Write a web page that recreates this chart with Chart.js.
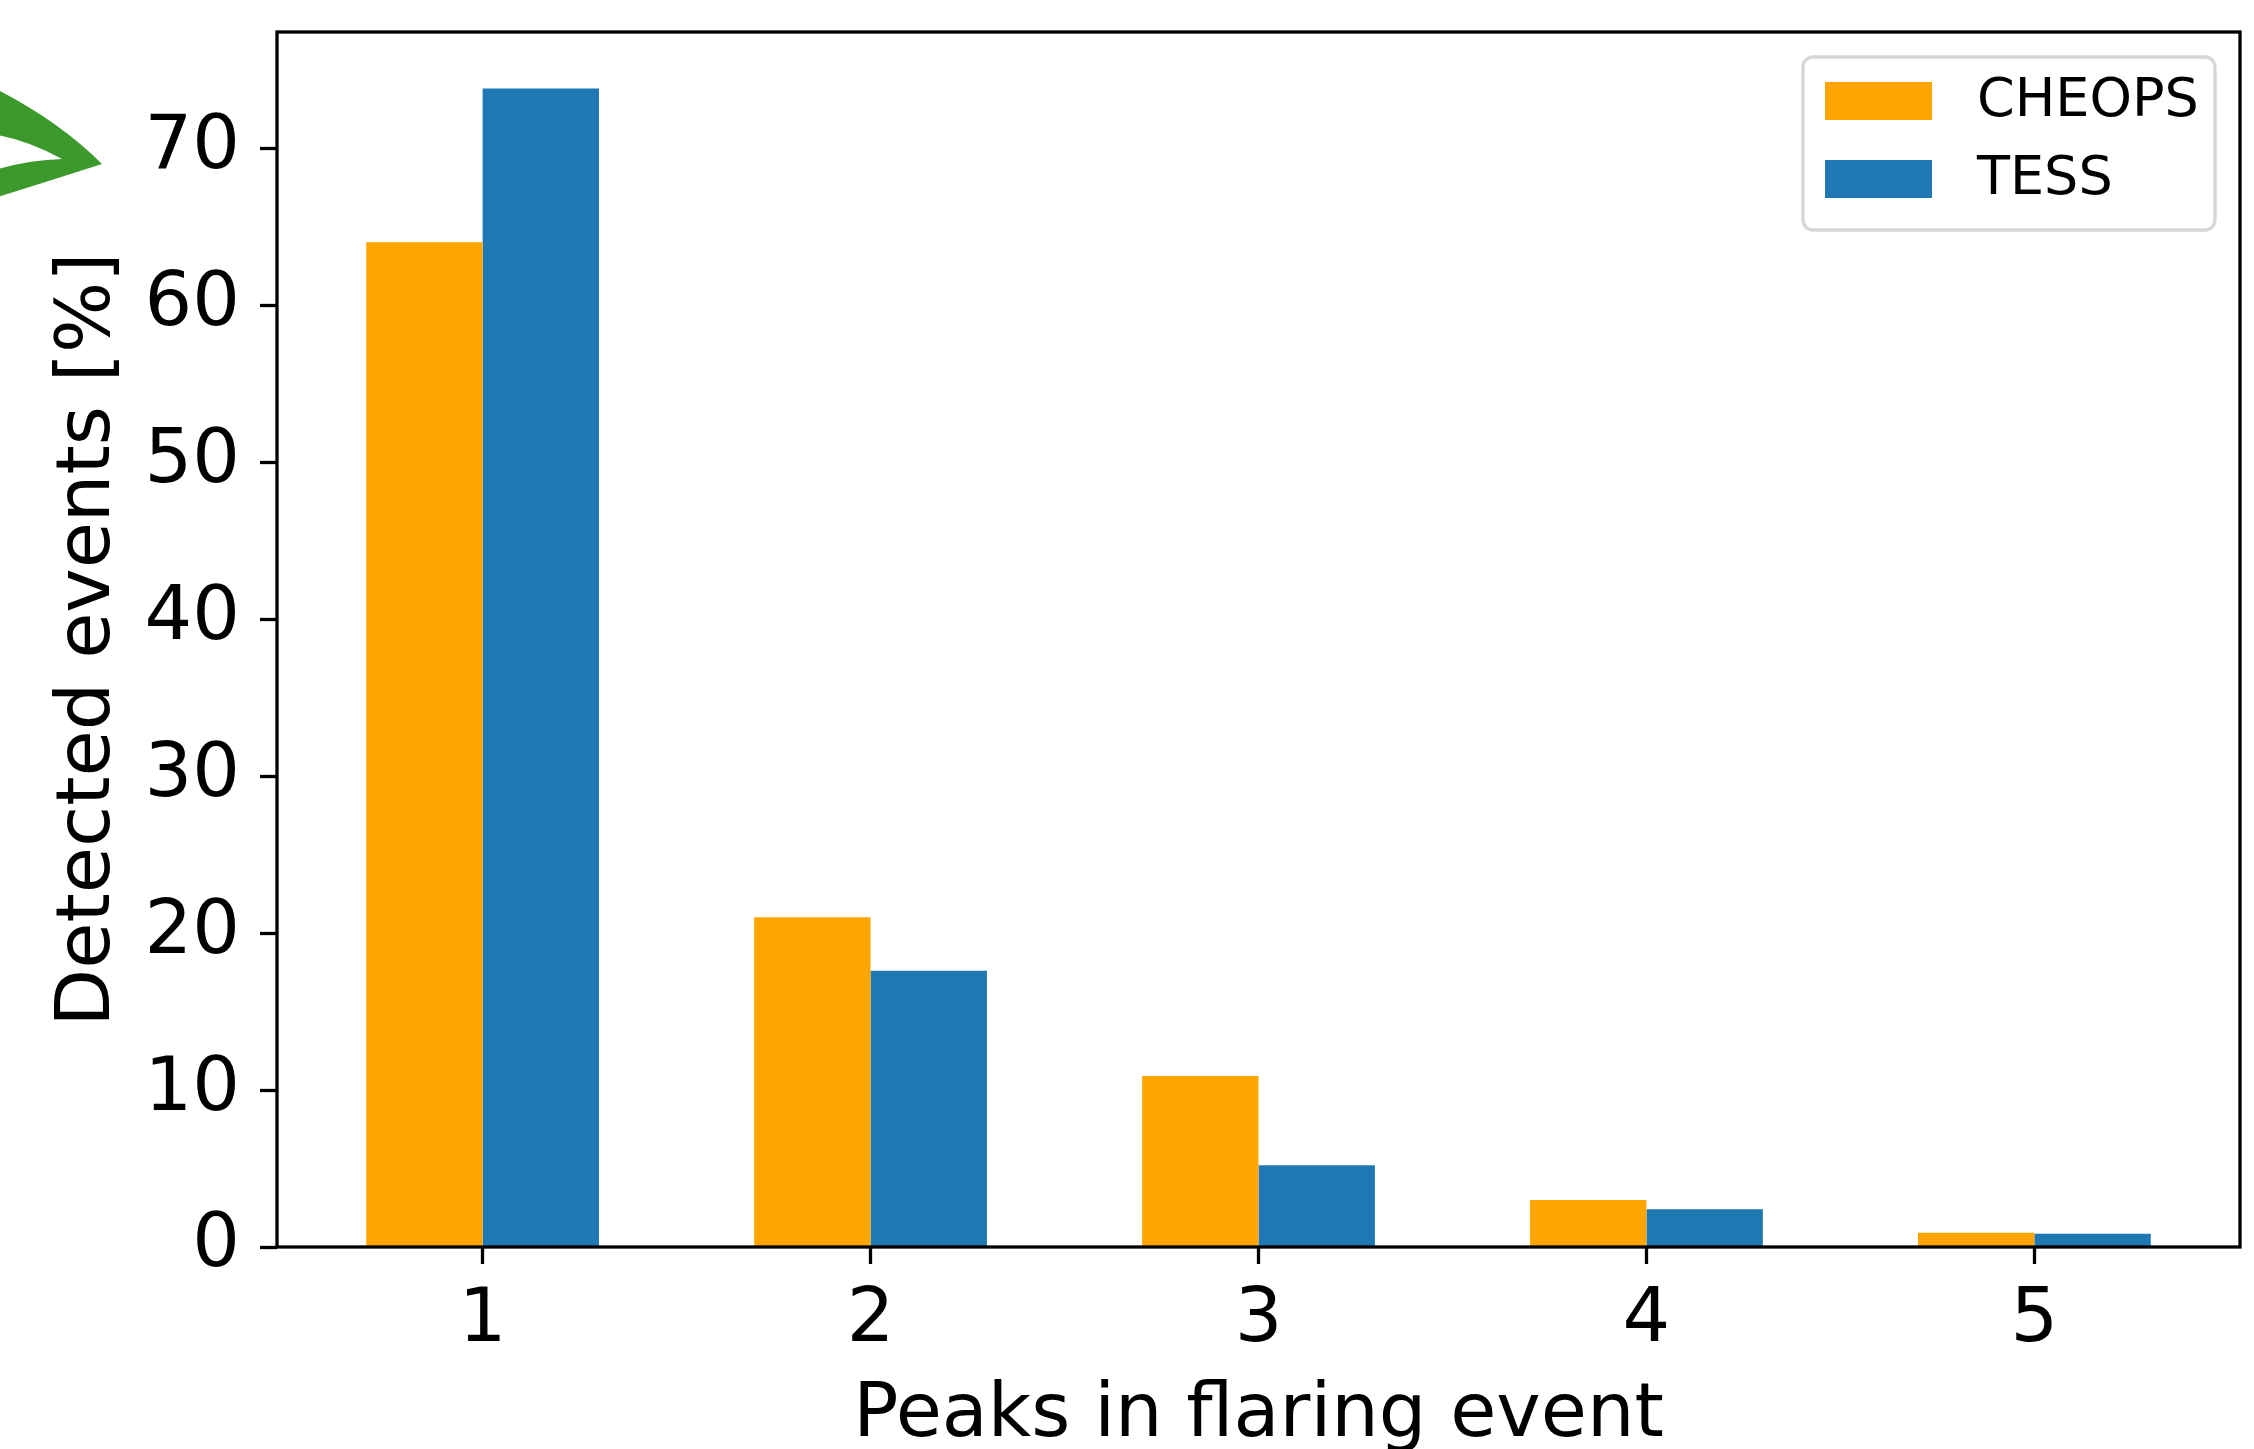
<!DOCTYPE html>
<html>
<head>
<meta charset="utf-8">
<script src="https://cdn.jsdelivr.net/npm/chart.js@4.4.1/dist/chart.umd.min.js"></script>
<style>
  html, body { margin: 0; padding: 0; background: #fff; }
  #wrap { width: 2254px; height: 1449px; }
</style>
</head>
<body>
<div id="wrap"><canvas id="chart" width="2254" height="1449"></canvas></div>
<script>
// Data
const peaks = [1, 2, 3, 4, 5];
const cheops = [64.0, 21.0, 10.9, 3.0, 0.9];
const tess = [73.8, 17.6, 5.2, 2.4, 0.85];
const xTicks = [1, 2, 3, 4, 5];
const yTicks = [0, 10, 20, 30, 40, 50, 60, 70];

const cheopsColor = '#ffa500';
const tessColor = '#1f77b4';
const font = 'DejaVu Sans';

// matplotlib-like frame (all four spines), drawn over the bars
const framePlugin = {
  id: 'frame',
  afterDatasetsDraw(chart) {
    const { ctx, chartArea } = chart;
    const { left, top, right, bottom } = chartArea;
    ctx.save();
    ctx.strokeStyle = '#000';
    ctx.lineWidth = 3.3;
    ctx.strokeRect(left, top, right - left, bottom - top);
    ctx.restore();
  }
};

// legend box in the upper right corner of the axes
const legendPlugin = {
  id: 'boxLegend',
  afterDraw(chart) {
    const { ctx, chartArea } = chart;
    const w = 412, h = 173;
    const x = chartArea.right - 25 - w;
    const y = chartArea.top + 25;
    ctx.save();
    ctx.beginPath();
    ctx.roundRect(x, y, w, h, 10);
    ctx.fillStyle = 'rgba(255,255,255,0.8)';
    ctx.fill();
    ctx.lineWidth = 3.3;
    ctx.strokeStyle = '#d6d6d6';
    ctx.stroke();
    ctx.font = `54px "${font}"`;
    ctx.textBaseline = 'middle';
    ctx.textAlign = 'left';
    chart.data.datasets.forEach((ds, i) => {
      const py = y + 25 + i * 78;
      ctx.fillStyle = ds.backgroundColor;
      ctx.fillRect(x + 22, py, 107, 38);
      ctx.fillStyle = '#000';
      ctx.fillText(ds.label, x + 174, py + 20);
    });
    ctx.restore();
  }
};

// green hand-drawn arrowhead at the left edge
const arrowPlugin = {
  id: 'arrow',
  afterDraw(chart) {
    const { ctx } = chart;
    ctx.save();
    ctx.fillStyle = '#3c9a2c';
    ctx.beginPath();
    ctx.moveTo(-2, 90);
    ctx.quadraticCurveTo(60, 122, 102, 164);
    ctx.quadraticCurveTo(55, 179, -2, 197);
    ctx.lineTo(-2, 169);
    ctx.quadraticCurveTo(30, 160, 62, 159);
    ctx.quadraticCurveTo(30, 141, -2, 135);
    ctx.closePath();
    ctx.fill();
    ctx.restore();
  }
};

new Chart(document.getElementById('chart').getContext('2d'), {
  type: 'bar',
  data: {
    datasets: [
      {
        label: 'CHEOPS',
        data: peaks.map((p, i) => ({ x: p, y: cheops[i] })),
        backgroundColor: cheopsColor,
        borderWidth: 0
      },
      {
        label: 'TESS',
        data: peaks.map((p, i) => ({ x: p, y: tess[i] })),
        backgroundColor: tessColor,
        borderWidth: 0
      }
    ]
  },
  options: {
    responsive: false,
    animation: false,
    devicePixelRatio: 1,
    categoryPercentage: 0.6,
    barPercentage: 1.0,
    layout: { padding: { top: 32, right: 14, left: 0, bottom: 0 } },
    scales: {
      x: {
        type: 'linear',
        offset: false,
        min: 0.47,
        max: 5.53,
        afterBuildTicks: axis => { axis.ticks = xTicks.map(v => ({ value: v })); },
        afterFit: axis => {
          axis.height = 202;
          axis.paddingLeft = 0;
          axis.paddingRight = 0;
        },
        grid: {
          display: true,
          offset: false,
          drawOnChartArea: false,
          drawTicks: true,
          tickLength: 17,
          tickWidth: 3.3,
          tickColor: '#000'
        },
        border: { display: false },
        ticks: {
          color: '#000',
          padding: 20,
          maxRotation: 0,
          font: { family: font, size: 75, lineHeight: 1 }
        },
        title: {
          display: true,
          text: 'Peaks in flaring event',
          color: '#000',
          padding: { top: 0, bottom: -5 },
          font: { family: font, size: 75, lineHeight: 1 }
        }
      },
      y: {
        min: 0,
        max: 77.4,
        afterBuildTicks: axis => { axis.ticks = yTicks.map(v => ({ value: v })); },
        afterFit: axis => {
          axis.width = 277;
          axis.paddingTop = 0;
          axis.paddingBottom = 0;
        },
        grid: {
          display: true,
          drawOnChartArea: false,
          drawTicks: true,
          tickLength: 17,
          tickWidth: 3.3,
          tickColor: '#000'
        },
        border: { display: false },
        ticks: {
          color: '#000',
          padding: 20,
          font: { family: font, size: 75, lineHeight: 1 }
        },
        title: {
          display: true,
          text: 'Detected events [%]',
          color: '#000',
          padding: { top: 52, bottom: 0 },
          font: { family: font, size: 75, lineHeight: 1 }
        }
      }
    },
    plugins: {
      legend: { display: false },
      tooltip: { enabled: false }
    }
  },
  plugins: [framePlugin, legendPlugin, arrowPlugin]
});
</script>
</body>
</html>
